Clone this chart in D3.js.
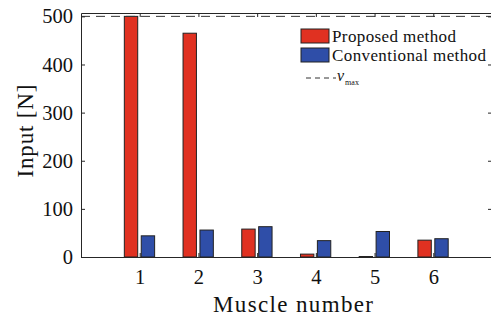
<!DOCTYPE html>
<html>
<head>
<meta charset="utf-8">
<script src="https://d3js.org/d3.v7.min.js"></script>
<style>
  body { margin: 0; background: #fff; }
  text { font-family: "Liberation Serif", "DejaVu Serif", serif; fill: #111; }
</style>
</head>
<body>
<svg id="chart" width="491" height="320"></svg>
<script>
const muscles = [1, 2, 3, 4, 5, 6];
const proposed = [500, 465, 58, 6, 1, 35];
const conventional = [44, 56, 63, 34, 53, 38];
const vmax = 500;
const yTicks = [0, 100, 200, 300, 400, 500];
const seriesNames = ["Proposed method", "Conventional method"];
const colors = ["#e03121", "#2f4ea8"];

const svg = d3.select("#chart");
const m = {left: 81, right: 492, top: 13, bottom: 257};

const x = d3.scaleLinear().domain([0, 7]).range([m.left, m.right]);
const y = d3.scaleLinear().domain([0, 507]).range([m.bottom, m.top]);

const axisColor = "#262626";

// bars
const series = [proposed, conventional];
const offsets = [-0.148, 0.14];
const bw = 0.228;
series.forEach((vals, s) => {
  svg.append("g").selectAll("rect")
    .data(muscles)
    .join("rect")
    .attr("x", d => x(d + offsets[s] - bw / 2))
    .attr("width", x(bw) - x(0))
    .attr("y", (d, i) => y(vals[i]))
    .attr("height", (d, i) => y(0) - y(vals[i]))
    .attr("fill", colors[s])
    .attr("stroke", "#222")
    .attr("stroke-width", 1);
});

// vmax dashed line
svg.append("line")
  .attr("x1", m.left).attr("x2", m.right)
  .attr("y1", y(vmax)).attr("y2", y(vmax))
  .attr("stroke", "#333").attr("stroke-width", 1)
  .attr("stroke-dasharray", "9,6");

// axes
const yAxis = d3.axisLeft(y).tickValues(yTicks).tickSizeInner(-4).tickSizeOuter(0).tickPadding(8);
svg.append("g").attr("transform", `translate(${m.left},0)`).call(yAxis);
const yAxisR = d3.axisRight(y).tickValues(yTicks).tickSizeInner(-4).tickSizeOuter(0).tickFormat("");
svg.append("g").attr("transform", `translate(${m.right},0)`).call(yAxisR);
const xAxis = d3.axisBottom(x).tickValues(muscles).tickSizeInner(-4).tickSizeOuter(0).tickPadding(12).tickFormat(d3.format("d"));
svg.append("g").attr("transform", `translate(0,${m.bottom})`).call(xAxis);
const xAxisT = d3.axisTop(x).tickValues(muscles).tickSizeInner(-4).tickSizeOuter(0).tickFormat("");
svg.append("g").attr("transform", `translate(0,${m.top})`).call(xAxisT);

svg.selectAll(".domain").attr("stroke", axisColor).attr("stroke-width", 1);
svg.selectAll(".tick line").attr("stroke", axisColor);
svg.selectAll(".tick text")
  .style("font-family", '"Liberation Serif", "DejaVu Serif", serif')
  .style("font-size", "20.5px").attr("fill", "#111");

// axis labels
svg.append("text")
  .attr("x", 293).attr("y", 312)
  .attr("text-anchor", "middle")
  .style("font-size", "23px")
  .attr("textLength", 160)
  .text("Muscle number");
svg.append("text")
  .attr("transform", "translate(33,131) rotate(-90)")
  .attr("text-anchor", "middle")
  .style("font-size", "23px")
  .attr("textLength", 93)
  .text("Input [N]");

// legend
const lg = svg.append("g");
const legendLen = [124, 154];
seriesNames.forEach((name, i) => {
  lg.append("rect")
    .attr("x", 301).attr("y", 29 + i * 19)
    .attr("width", 28).attr("height", 14)
    .attr("fill", colors[i]).attr("stroke", "#222");
  lg.append("text")
    .attr("x", 332).attr("y", 42 + i * 19)
    .style("font-size", "17px")
    .attr("textLength", legendLen[i])
    .text(name);
});
lg.append("line")
  .attr("x1", 306).attr("x2", 336)
  .attr("y1", 78).attr("y2", 78)
  .attr("stroke", "#333").attr("stroke-dasharray", "5,4");
const vt = lg.append("text").attr("x", 337).attr("y", 81).style("font-size", "16px");
vt.append("tspan").style("font-style", "italic").text("v");
vt.append("tspan").attr("dy", 4).attr("dx", 1).style("font-size", "8px").text("max");
</script>
</body>
</html>
